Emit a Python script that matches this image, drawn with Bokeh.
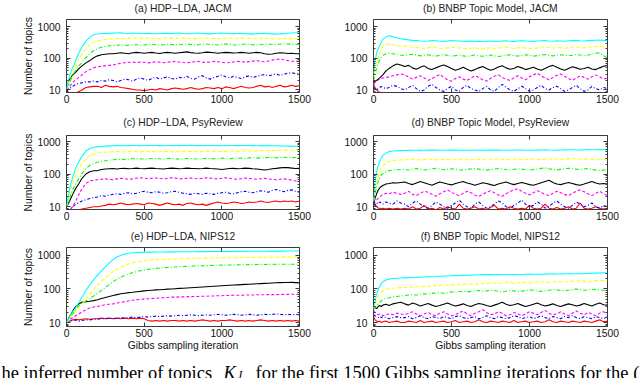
from bokeh.plotting import figure
from bokeh.models import Range1d, LogAxis, LinearAxis, FixedTicker, PrintfTickFormatter, Label
from bokeh.layouts import column, row
from bokeh.embed import file_html
from bokeh.resources import INLINE

ITER = [0, 10, 20, 30, 40, 50, 60, 80, 100, 125, 150, 175,
        200, 225, 250, 275, 300, 325, 350, 375, 400, 425, 450, 475, 500,
        525, 550, 575, 600, 625, 650, 675, 700, 725, 750, 775, 800, 825, 850, 875, 900, 925, 950, 975, 1000,
        1025, 1050, 1075, 1100, 1125, 1150, 1175, 1200, 1225, 1250, 1275, 1300, 1325, 1350, 1375, 1400, 1425, 1450, 1475, 1500]

X_TICKS = [0, 500, 1000, 1500]
Y_TICKS = [10, 100, 1000]
Y_MINOR = [8, 9, 20, 30, 40, 50, 60, 70, 80, 90, 200, 300, 400, 500, 600, 700, 800, 900]

# ---- (a) HDP-LDA, JACM ----
A_CYAN = [10, 18, 28, 40, 52, 65, 90, 150, 230, 350, 470, 560,
          590, 610, 620, 625, 630, 635, 640, 625, 615, 630,
          625, 610, 615, 625, 605, 600, 615, 625, 620, 605,
          625, 635, 615, 600, 615, 625, 635, 615, 605, 595,
          615, 625, 635, 625, 615, 605, 615, 625, 605, 595,
          585, 605, 615, 625, 605, 595, 585, 595, 615, 625,
          635, 645, 650]
A_YELLOW = [10, 15, 22, 30, 40, 50, 62, 95, 135, 200, 270, 330,
            360, 380, 395, 405, 415, 425, 430, 420, 430, 440,
            435, 425, 430, 440, 430, 420, 425, 435, 440, 430,
            425, 430, 440, 435, 420, 415, 425, 435, 440, 430,
            425, 420, 430, 440, 435, 425, 420, 430, 440, 430,
            420, 415, 425, 435, 430, 420, 410, 420, 430, 425,
            415, 420, 425]
A_GREEN = [10, 13, 17, 22, 28, 35, 42, 58, 75, 105, 140, 175,
           205, 225, 240, 250, 255, 260, 265, 258, 262, 270,
           270, 260, 265, 275, 280, 270, 265, 270, 280, 275,
           265, 270, 280, 285, 275, 265, 270, 280, 285, 275,
           270, 265, 275, 285, 280, 270, 265, 275, 285, 280,
           270, 265, 275, 280, 285, 275, 270, 280, 290, 285,
           280, 275, 280]
A_BLACK = [10, 16, 22, 26, 30, 33, 37, 47, 58, 72, 85, 105,
           120, 130, 135, 140, 140, 145, 150, 145, 140, 150,
           155, 150, 145, 150, 155, 148, 142, 150, 155, 150,
           145, 150, 155, 160, 152, 148, 145, 150, 158, 155,
           150, 145, 150, 155, 152, 148, 150, 155, 150, 145,
           150, 155, 150, 140, 135, 138, 145, 150, 148, 142,
           145, 140, 140]
A_MAGENTA = [10, 11, 13, 15, 17, 19, 21, 25, 30, 38, 44, 50,
             54, 56, 58, 60, 62, 66, 70, 73, 75, 76,
             73, 76, 75, 72, 74, 78, 76, 73, 75, 78,
             80, 77, 74, 72, 75, 78, 80, 76, 74, 77,
             80, 78, 75, 72, 74, 77, 80, 78, 76, 79,
             82, 85, 80, 78, 82, 88, 92, 95, 90, 85,
             82, 80, 82]
A_BLUE = [9, 10, 11, 12, 13, 14, 15, 16, 17, 18, 18, 19,
          18, 20, 19, 21, 20, 18, 20, 22, 21, 19,
          22, 24, 22, 20, 23, 25, 22, 24, 26, 23,
          22, 25, 24, 27, 23, 22, 26, 28, 24, 22,
          25, 27, 30, 26, 24, 27, 25, 23, 26, 28,
          25, 27, 29, 31, 28, 30, 32, 29, 31, 34,
          35, 33, 32]
A_RED = [7, 7, 7, 7, 7, 7.5, 8, 9, 10, 12, 12.5, 13,
         13, 12, 14, 13, 12.5, 13, 12, 11.5, 11, 10.5,
         10, 10, 9.5, 10, 10.5, 10, 11, 10.5, 10, 11,
         11.5, 11, 10.5, 11, 12, 11, 10.5, 11, 12, 11.5,
         11, 12, 11, 12.5, 12, 11, 12, 13, 12, 11.5,
         12, 13, 14, 12.5, 13, 12, 13, 14, 12.5, 13,
         14, 13, 13.5]

# ---- (b) BNBP Topic Model, JACM ----
B_CYAN = [34, 80, 150, 200, 260, 330, 400, 480, 520, 480, 440, 420,
          400, 385, 370, 365, 355, 350, 355, 365, 360, 350,
          345, 355, 365, 360, 355, 350, 345, 355, 350, 345,
          340, 350, 355, 345, 350, 355, 360, 350, 345, 355,
          360, 355, 350, 345, 355, 360, 365, 355, 350, 360,
          355, 350, 360, 365, 370, 360, 355, 365, 370, 375,
          380, 370, 365]
B_YELLOW = [25, 40, 70, 110, 150, 200, 240, 280, 290, 270, 255, 245,
            240, 235, 225, 220, 215, 210, 215, 225, 220, 210,
            205, 215, 225, 220, 215, 205, 200, 210, 215, 205,
            200, 210, 215, 205, 210, 220, 225, 215, 205, 215,
            220, 215, 210, 205, 215, 225, 230, 220, 210, 220,
            215, 210, 220, 225, 230, 220, 215, 225, 230, 235,
            240, 225, 210]
B_GREEN = [20, 30, 50, 70, 90, 110, 125, 140, 145, 140, 130, 125,
           125, 130, 135, 128, 120, 125, 130, 122, 118, 125,
           130, 125, 118, 122, 128, 120, 115, 122, 128, 120,
           116, 122, 128, 120, 115, 120, 126, 130, 122, 118,
           124, 130, 125, 118, 122, 128, 132, 125, 120, 126,
           130, 125, 120, 126, 132, 128, 122, 128, 135, 145,
           150, 120, 105]
B_BLACK = [18, 19, 20, 22, 24, 27, 30, 40, 48, 58, 66, 62,
           55, 60, 50, 45, 52, 58, 48, 44, 50, 56,
           62, 55, 48, 42, 46, 52, 45, 40, 44, 50,
           55, 48, 42, 46, 53, 58, 50, 45, 48, 55,
           50, 44, 48, 52, 46, 42, 48, 55, 60, 52,
           46, 42, 48, 54, 50, 45, 48, 52, 46, 44,
           50, 56, 60]
B_MAGENTA = [15, 17, 19, 21, 22, 23, 24, 25, 26, 28, 30, 32,
             30, 26, 22, 25, 28, 24, 20, 23, 27, 31,
             25, 21, 19, 23, 26, 22, 20, 24, 28, 25,
             21, 19, 23, 27, 30, 25, 22, 20, 24, 28,
             24, 21, 26, 30, 34, 28, 24, 21, 25, 29,
             32, 27, 23, 20, 24, 28, 25, 22, 26, 30,
             26, 22, 24]
B_BLUE = [12, 11, 10, 11, 12, 13, 12, 11, 12, 14, 13, 11,
          10, 12, 14, 11, 9, 10, 13, 15, 12, 10,
          9, 11, 13, 10, 9, 12, 14, 11, 10, 9,
          11, 13, 10, 9, 12, 15, 12, 10, 9, 11,
          13, 11, 9, 10, 12, 14, 11, 10, 12, 13,
          11, 9, 10, 12, 14, 11, 9, 10, 13, 11,
          10, 12, 11]
B_RED = [15, 12, 10, 9, 8.5, 7.5, 7, 7, 7, 7, 7, 7,
         7, 7, 7, 7, 7, 7, 7, 7, 7, 7,
         7, 7, 7, 7, 7, 8.5, 7, 7, 7, 7,
         7, 7, 7, 7, 7, 7, 8.5, 7, 7, 7,
         7, 7, 7, 7, 7, 7, 7, 7, 7, 7,
         7, 7, 7, 7, 7, 7, 7, 7, 7, 7,
         7, 7, 7]

# ---- (c) HDP-LDA, PsyReview ----
C_CYAN = [10, 20, 35, 55, 80, 115, 160, 250, 360, 520, 620, 680,
          700, 720, 740, 750, 760, 765, 770, 760, 765, 770,
          775, 765, 760, 770, 775, 770, 765, 760, 770, 775,
          770, 765, 770, 775, 780, 770, 765, 760, 770, 775,
          770, 765, 760, 770, 775, 770, 765, 770, 775, 770,
          765, 760, 765, 770, 765, 760, 755, 750, 745, 740,
          740, 735, 730]
C_YELLOW = [10, 15, 25, 38, 55, 75, 100, 150, 210, 300, 380, 420,
            450, 470, 480, 490, 500, 505, 495, 490, 500, 510,
            505, 495, 500, 510, 505, 500, 495, 505, 510, 500,
            495, 500, 510, 515, 505, 500, 495, 505, 510, 515,
            510, 505, 500, 510, 520, 515, 510, 520, 525, 520,
            515, 525, 530, 540, 535, 530, 540, 550, 545, 555,
            560, 565, 570]
C_GREEN = [10, 13, 18, 25, 33, 42, 52, 75, 105, 150, 190, 215,
           235, 250, 260, 270, 280, 285, 290, 285, 295, 300,
           305, 300, 295, 300, 305, 310, 300, 295, 305, 310,
           300, 295, 300, 305, 310, 300, 295, 300, 310, 305,
           300, 310, 315, 305, 300, 310, 320, 315, 310, 320,
           325, 320, 315, 325, 330, 325, 320, 330, 335, 330,
           325, 330, 335]
C_BLACK = [10, 12, 15, 19, 24, 30, 37, 52, 75, 102, 120, 128,
           130, 140, 145, 148, 150, 145, 150, 152, 148, 150,
           155, 150, 148, 152, 155, 150, 148, 145, 150, 155,
           152, 148, 150, 155, 152, 150, 148, 150, 155, 150,
           148, 145, 140, 145, 150, 152, 148, 150, 155, 152,
           148, 145, 140, 135, 140, 148, 152, 158, 162, 160,
           155, 150, 152]
C_MAGENTA = [7, 7.5, 8, 9, 10, 12, 15, 24, 36, 52, 62, 66,
             68, 70, 72, 70, 68, 72, 75, 73, 70, 72,
             75, 78, 76, 73, 75, 77, 74, 72, 75, 78,
             76, 73, 72, 75, 77, 74, 72, 75, 78, 76,
             73, 72, 75, 78, 75, 72, 70, 73, 76, 74,
             72, 70, 73, 75, 72, 70, 68, 70, 72, 70,
             66, 62, 60]
C_BLUE = [7.5, 8, 8.5, 9, 10, 11, 12, 13.5, 15, 16.5, 18, 19,
          20, 22, 21, 23, 24, 25, 24, 26, 27, 25,
          26, 28, 30, 28, 27, 29, 28, 26, 27, 29,
          30, 28, 26, 25, 24, 26, 25, 24, 26, 25,
          24, 26, 27, 28, 26, 25, 27, 29, 30, 28,
          27, 29, 31, 30, 28, 32, 34, 31, 29, 32,
          33, 30, 28]
C_RED = [7, 7, 7, 7, 7, 7.5, 7.5, 8, 8.5, 9, 9.5, 10,
         10, 10.5, 11, 12, 11.5, 12, 13, 12, 11.5, 12,
         12.5, 12, 11.5, 13, 12.5, 12, 11, 12, 13, 12,
         11.5, 12, 11, 12.5, 13, 12, 11.5, 12, 11, 12,
         13, 14, 13, 12.5, 13, 14, 13.5, 12.5, 13, 14,
         13.5, 14, 15, 14, 13.5, 14.5, 15, 14, 15, 14.5,
         15, 14, 15]

# ---- (d) BNBP Topic Model, PsyReview ----
D_CYAN = [15, 60, 120, 180, 250, 320, 380, 450, 500, 520, 530, 535,
          540, 545, 550, 548, 545, 550, 555, 560, 555, 550,
          548, 552, 555, 558, 550, 545, 548, 552, 555, 550,
          545, 550, 555, 560, 555, 550, 548, 552, 555, 560,
          558, 552, 548, 550, 555, 560, 565, 558, 552, 555,
          560, 565, 570, 568, 562, 565, 570, 575, 568, 572,
          575, 570, 565]
D_YELLOW = [15, 30, 55, 85, 120, 150, 180, 220, 250, 265, 270, 275,
            280, 285, 290, 282, 278, 285, 292, 288, 280, 285,
            290, 286, 280, 284, 292, 288, 282, 278, 285, 290,
            286, 280, 284, 290, 295, 288, 282, 286, 292, 288,
            282, 286, 292, 296, 290, 284, 288, 295, 300, 292,
            286, 290, 298, 305, 296, 290, 294, 300, 292, 286,
            290, 285, 280]
D_GREEN = [14, 25, 40, 60, 80, 95, 105, 120, 130, 135, 138, 140,
           140, 135, 145, 150, 142, 136, 140, 148, 152, 145,
           138, 142, 148, 144, 138, 134, 140, 146, 150, 144,
           138, 134, 140, 145, 150, 146, 140, 136, 142, 148,
           144, 138, 134, 140, 146, 152, 158, 148, 140, 136,
           142, 148, 154, 150, 144, 140, 146, 152, 140, 134,
           130, 135, 130]
D_BLACK = [12, 18, 25, 32, 38, 42, 45, 50, 52, 55, 54, 56,
           58, 52, 48, 54, 60, 55, 50, 46, 52, 58,
           54, 50, 47, 52, 56, 60, 54, 50, 46, 50,
           55, 52, 48, 45, 50, 54, 58, 52, 48, 52,
           56, 52, 48, 46, 50, 55, 60, 65, 56, 50,
           48, 52, 56, 52, 48, 46, 50, 55, 60, 54,
           50, 52, 50]
D_MAGENTA = [12, 14, 16, 18, 20, 22, 24, 26, 25, 28, 26, 24,
             26, 30, 24, 22, 26, 30, 28, 24, 21, 25,
             29, 33, 28, 24, 22, 26, 30, 27, 23, 21,
             24, 28, 31, 27, 23, 21, 25, 29, 33, 36,
             30, 26, 23, 27, 31, 28, 24, 22, 26, 30,
             27, 24, 22, 26, 30, 33, 29, 25, 22, 26,
             30, 25, 22]
D_BLUE = [12, 11, 13, 12, 14, 13, 12, 14, 13, 12, 15, 13,
          12, 10, 13, 15, 12, 10, 9, 11, 14, 12,
          10, 9, 11, 13, 16, 12, 10, 9, 12, 14,
          11, 9, 10, 12, 15, 13, 10, 9, 11, 13,
          16, 12, 10, 11, 14, 12, 9, 10, 13, 15,
          12, 10, 9, 11, 14, 12, 10, 11, 13, 10,
          9, 11, 10]
D_RED = [14, 12, 10, 9, 9, 8.5, 9, 8.5, 9, 8.5, 9, 8.5,
         9, 8.5, 10, 8.5, 9, 11, 8.5, 9, 8, 9.5,
         8.5, 10, 9, 8.5, 12, 9, 8.5, 9, 10, 8.5,
         9, 8, 9.5, 11, 8.5, 9, 8.5, 10, 9, 8.5,
         9, 8.5, 11, 9, 8.5, 9, 12, 9, 8.5, 9.5,
         8.5, 9, 10, 8.5, 9, 13, 9, 8.5, 9, 10,
         9, 8.5, 9]

# ---- (e) HDP-LDA, NIPS12 ----
E_CYAN = [10, 12, 15, 18, 21, 24, 28, 40, 58, 90, 135, 190,
          260, 350, 460, 600, 750, 900, 1020, 1100, 1160, 1200, 1220, 1240, 1250,
          1255, 1260, 1265, 1270, 1275, 1280, 1282, 1285, 1288, 1290, 1292, 1295, 1298, 1300, 1302, 1305, 1308, 1310, 1312, 1315,
          1318, 1320, 1322, 1325, 1327, 1330, 1332, 1335, 1337, 1340, 1342, 1344, 1346, 1348, 1350, 1352, 1354, 1356, 1358, 1360]
E_YELLOW = [10, 11, 13, 15, 17, 19, 22, 28, 36, 50, 70, 95,
            130, 170, 215, 270, 330, 390, 450, 500, 560, 600, 640, 670, 700,
            720, 735, 750, 760, 770, 780, 790, 795, 800, 805, 810, 815, 820, 825, 830, 835, 838, 842, 845, 848,
            852, 855, 858, 862, 865, 868, 870, 872, 875, 878, 880, 882, 885, 888, 890, 892, 895, 898, 900, 900]
E_GREEN = [10, 11, 13, 15, 18, 21, 25, 32, 38, 44, 52, 62,
           75, 90, 110, 135, 165, 195, 225, 255, 280, 305, 330, 350, 370,
           385, 400, 412, 422, 432, 440, 448, 455, 462, 468, 474, 480, 485, 490, 494, 498, 502, 506, 510, 514,
           517, 520, 523, 526, 528, 530, 532, 534, 536, 538, 540, 542, 544, 545, 546, 547, 548, 549, 550, 550]
E_BLACK = [10, 12, 15, 18, 22, 26, 30, 36, 40, 42, 43, 45,
           48, 52, 56, 60, 64, 68, 72, 75, 78, 80, 83, 85, 88,
           90, 92, 94, 95, 97, 99, 100, 102, 104, 105, 107, 109, 111, 113, 115, 117, 119, 121, 123, 125,
           127, 129, 131, 133, 135, 137, 139, 141, 143, 145, 147, 149, 151, 153, 155, 156, 157, 158, 155, 152]
E_MAGENTA = [10, 11, 12, 13, 14, 15, 16, 18, 21, 24, 27, 29,
             30, 32, 34, 35, 36, 38, 40, 42, 44, 46, 48, 49, 50,
             51, 52, 53, 54, 55, 56, 57, 57, 58, 58, 59, 59, 60, 60, 61, 61, 62, 62, 63, 63,
             64, 64, 65, 65, 65, 66, 66, 66, 67, 67, 67, 68, 68, 68, 69, 69, 69, 70, 70, 70]
E_BLUE = [10, 10.5, 11, 11, 11.5, 12, 11.5, 11, 11.5, 12, 12, 12.5,
          12.5, 13, 13, 13.5, 13, 13.5, 14, 13.5, 14, 14.5, 14, 14.5, 15,
          14.5, 15, 15.5, 15, 15.5, 16, 15.5, 16, 16.5, 16, 16.5, 17, 16.5, 16, 16.5, 17, 16.5, 17, 17.5, 17,
          16.5, 17, 17.5, 17, 16.5, 17, 17.5, 17, 16.5, 17, 17.5, 17, 17.5, 18, 17.5, 17, 17.5, 17, 17.5, 17]
E_RED = [10, 10.5, 11, 11.5, 12, 12, 12.5, 12, 12.5, 13, 12.5, 13,
         13, 13.5, 13, 13.5, 13, 13.5, 13, 13.5, 13, 13.5, 13, 13.5, 13,
         11.5, 11, 11.5, 11, 11.5, 11, 11.5, 11.5, 11, 11.5, 11, 11.5, 11, 11.5, 12, 11.5, 11, 11.5, 11, 11.5,
         11.5, 12, 11.5, 11, 11.5, 11, 11.5, 11, 11.5, 12, 11.5, 11, 11.5, 11, 11.5, 11, 11.5, 11, 11.5, 11]

# ---- (f) BNBP Topic Model, NIPS12 ----
F_CYAN = [28, 45, 70, 95, 120, 145, 165, 185, 200, 205, 210, 212,
          215, 218, 220, 222, 225, 228, 230, 232, 235, 240,
          242, 245, 248, 250, 252, 255, 258, 260, 262, 265,
          268, 270, 268, 265, 268, 270, 272, 270, 268, 270,
          272, 275, 278, 276, 274, 276, 278, 280, 282, 280,
          282, 285, 288, 286, 284, 286, 290, 292, 295, 298,
          300, 302, 300]
F_YELLOW = [25, 35, 48, 60, 72, 82, 90, 98, 102, 105, 108, 110,
            112, 110, 115, 118, 114, 120, 125, 122, 128, 130,
            126, 132, 135, 130, 136, 140, 138, 142, 145, 140,
            146, 150, 155, 150, 148, 152, 158, 155, 150, 154,
            160, 156, 152, 158, 162, 165, 160, 158, 164, 168,
            165, 162, 168, 172, 170, 175, 172, 168, 174, 178,
            182, 178, 180]
F_GREEN = [25, 28, 32, 36, 40, 44, 48, 52, 55, 58, 60, 62,
           64, 66, 68, 66, 70, 72, 70, 74, 76, 78,
           75, 78, 82, 80, 84, 86, 82, 85, 88, 90,
           86, 88, 92, 90, 85, 82, 86, 90, 88, 84,
           86, 90, 94, 92, 88, 85, 88, 92, 96, 94,
           90, 88, 92, 96, 100, 95, 92, 94, 98, 96,
           94, 92, 90]
F_BLACK = [25, 28, 26, 30, 32, 30, 33, 35, 32, 36, 38, 40,
           36, 33, 38, 35, 31, 34, 37, 33, 30, 32,
           35, 38, 34, 31, 33, 36, 32, 30, 34, 37,
           35, 32, 30, 33, 36, 40, 35, 32, 34, 37,
           33, 30, 32, 35, 38, 34, 31, 33, 36, 32,
           30, 33, 36, 34, 31, 33, 37, 34, 31, 35,
           38, 34, 33]
F_MAGENTA = [22, 20, 18, 17, 18, 17, 16, 17, 18, 17, 19, 18,
             17, 19, 21, 18, 16, 18, 20, 17, 16, 19,
             21, 18, 16, 17, 20, 22, 18, 16, 19, 21,
             24, 20, 17, 18, 21, 19, 16, 17, 20, 18,
             16, 18, 21, 19, 17, 20, 23, 19, 17, 18,
             21, 18, 16, 19, 22, 19, 17, 20, 18, 16,
             19, 21, 18]
F_BLUE = [17, 16, 15, 14, 15, 14, 15, 14, 13, 14, 15, 14,
          14, 15, 13, 14, 16, 14, 13, 15, 14, 13,
          15, 14, 13, 15, 16, 14, 13, 14, 15, 13,
          14, 16, 14, 13, 15, 14, 13, 14, 16, 15,
          13, 14, 15, 13, 14, 16, 14, 13, 15, 14,
          13, 15, 14, 16, 14, 13, 15, 14, 13, 15,
          14, 13, 15]
F_RED = [15, 12, 11, 10.5, 11, 10, 10.5, 11, 10, 10.5, 11, 10,
         10, 11, 10.5, 10, 11.5, 10, 10.5, 11, 10, 10.5,
         11, 10, 10.5, 11.5, 10, 10.5, 11, 10, 10.5, 12,
         10.5, 10, 11, 10.5, 10, 11, 10.5, 10, 11.5, 10,
         10.5, 11, 10, 10.5, 11, 10, 10.5, 12, 10.5, 10,
         11, 10.5, 10, 11, 10.5, 10, 11, 10.5, 10, 11,
         12, 10.5, 11]

TITLES = ["(a) HDP\u2212LDA, JACM", "(b) BNBP Topic Model, JACM",
          "(c) HDP\u2212LDA, PsyReview", "(d) BNBP Topic Model, PsyReview",
          "(e) HDP\u2212LDA, NIPS12", "(f) BNBP Topic Model, NIPS12"]
SERIES = [
    [A_CYAN, A_YELLOW, A_GREEN, A_BLACK, A_MAGENTA, A_BLUE, A_RED],
    [B_CYAN, B_YELLOW, B_GREEN, B_BLACK, B_MAGENTA, B_BLUE, B_RED],
    [C_CYAN, C_YELLOW, C_GREEN, C_BLACK, C_MAGENTA, C_BLUE, C_RED],
    [D_CYAN, D_YELLOW, D_GREEN, D_BLACK, D_MAGENTA, D_BLUE, D_RED],
    [E_CYAN, E_YELLOW, E_GREEN, E_BLACK, E_MAGENTA, E_BLUE, E_RED],
    [F_CYAN, F_YELLOW, F_GREEN, F_BLACK, F_MAGENTA, F_BLUE, F_RED],
]
Y_RANGES = [(8.3, 1700), (8.3, 1700), (8.2, 1570), (8.2, 1570), (7.6, 1730), (7.6, 1730)]

COLORS = ["#00ffff", "#ffff00", "#00ff00", "#000000", "#ff00ff", "#0000ff", "#ff0000"]
DASHES = ["solid", "4 2", "4 2 1 2", "solid", "3 2", "3 2 1 2", "solid"]

for pi, group in enumerate(SERIES):
    for si, s in enumerate(group):
        if len(s) != len(ITER):
            raise ValueError("panel %d series %d has %d values" % (pi, si, len(s)))

FONT = "Liberation Sans"
FS = "10.3px"
FRAME = "#3a3a3a"
TXT = "#111111"

# (figure height, top border, bottom border, title standoff) per row
ROWS = [(112, 16, 20, 1), (116, 20, 19, 5), (126, 19, 28, 1)]


def style_axis(ax, minor):
    ax.axis_line_color = None
    ax.major_tick_in = 4
    ax.major_tick_out = 0
    ax.major_tick_line_color = FRAME
    if minor:
        ax.minor_tick_in = 2
        ax.minor_tick_out = 0
        ax.minor_tick_line_color = FRAME
    else:
        ax.minor_tick_line_color = None


def make_panel(idx):
    r, c = divmod(idx, 2)
    fig_h, top_b, bot_b, t_standoff = ROWS[r]
    bl, br = (66, 21) if c == 0 else (53, 33)
    p = figure(width=320, height=fig_h,
               x_range=Range1d(0, 1500), y_range=Range1d(*Y_RANGES[idx]),
               y_axis_type="log", output_backend="svg", toolbar_location=None,
               min_border_left=bl, min_border_right=br,
               min_border_top=top_b, min_border_bottom=bot_b,
               title=TITLES[idx])
    p.background_fill_color = "white"
    p.border_fill_color = "white"
    p.outline_line_color = FRAME
    p.outline_line_width = 1
    p.xgrid.visible = False
    p.ygrid.visible = False

    xa = p.xaxis[0]
    ya = p.yaxis[0]
    xa.ticker = FixedTicker(ticks=X_TICKS)
    ya.ticker = FixedTicker(ticks=Y_TICKS, minor_ticks=Y_MINOR)
    ya.formatter = PrintfTickFormatter(format="%d")
    style_axis(xa, False)
    style_axis(ya, True)
    for ax in (xa, ya):
        ax.major_label_text_font = FONT
        ax.major_label_text_font_size = FS
        ax.major_label_text_color = TXT
    xa.major_label_standoff = 2
    ya.major_label_standoff = 6
    if c == 0:
        ya.axis_label = "Number of topics"
        ya.axis_label_text_font = FONT
        ya.axis_label_text_font_size = FS
        ya.axis_label_text_font_style = "normal"
        ya.axis_label_text_color = TXT
        ya.axis_label_standoff = 1
    if r == 2:
        xa.axis_label = "Gibbs sampling iteration"
        xa.axis_label_text_font = FONT
        xa.axis_label_text_font_size = FS
        xa.axis_label_text_font_style = "normal"
        xa.axis_label_text_color = TXT
        xa.axis_label_standoff = 0

    # mirrored ticks on top and right (box style); their labels are left blank
    top_ax = LinearAxis(ticker=FixedTicker(ticks=X_TICKS), major_label_standoff=0,
                        major_label_overrides={0: " ", 500: " ", 1000: " ", 1500: " "},
                        major_label_text_font_size="2px")
    style_axis(top_ax, False)
    p.add_layout(top_ax, "above")
    right_ax = LogAxis(ticker=FixedTicker(ticks=Y_TICKS, minor_ticks=Y_MINOR),
                       major_label_standoff=0,
                       major_label_overrides={10: " ", 100: " ", 1000: " "},
                       major_label_text_font_size="2px")
    style_axis(right_ax, True)
    p.add_layout(right_ax, "right")

    p.title.align = "center"
    p.title.text_font = FONT
    p.title.text_font_size = FS
    p.title.text_font_style = "normal"
    p.title.text_color = "#222222"
    p.title.standoff = t_standoff

    for s, col, dash in reversed(list(zip(SERIES[idx], COLORS, DASHES))):
        p.line(ITER, s, line_color=col, line_width=1.1, line_dash=dash)
    return p


panels = [make_panel(i) for i in range(6)]

cap = figure(width=640, height=24, x_range=Range1d(0, 640), y_range=Range1d(0, 24),
             output_backend="svg", toolbar_location=None, min_border=0,
             x_axis_location=None, y_axis_location=None)
cap.outline_line_color = None
cap.xgrid.visible = False
cap.ygrid.visible = False
CAP_FONT = "Liberation Serif"
CAP_FS = "18.5px"
for x, y, txt, style, size in [
        (1, 6, "he inferred number of topics", "normal", CAP_FS),
        (223, 6, "K", "italic", CAP_FS),
        (236.5, 4, "J", "italic", "12px"),
        (255, 6, "for the first 1500 Gibbs sampling iterations for the (", "normal", CAP_FS)]:
    cap.add_layout(Label(x=x, y=y, text=txt, text_font=CAP_FONT, text_font_style=style,
                         text_font_size=size, text_baseline="alphabetic", text_color="black"))

layout = column(row(panels[0], panels[1]), row(panels[2], panels[3]),
                row(panels[4], panels[5]), cap)

open("out.html", "w").write(file_html(layout, INLINE))
